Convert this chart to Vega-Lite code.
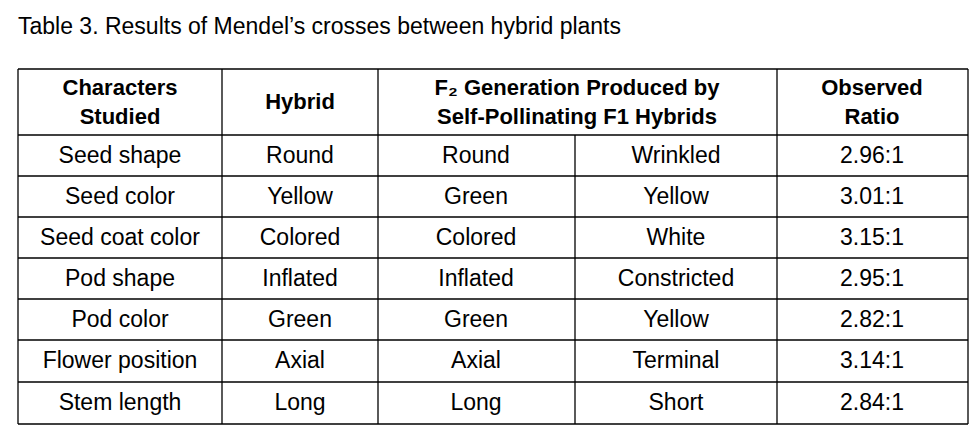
{
  "$schema": "https://vega.github.io/schema/vega-lite/v6.json",
  "width": 980,
  "height": 445,
  "autosize": {"type": "fit", "contains": "padding"},
  "padding": 0,
  "config": {"view": {"stroke": null}, "text": {"font": "Liberation Sans", "fontSize": 23}},
  "datasets": {
    "lines": [
      {"x": 18, "x2": 968, "y": 69, "y2": 69},
      {"x": 18, "x2": 968, "y": 135, "y2": 135},
      {"x": 18, "x2": 968, "y": 176, "y2": 176},
      {"x": 18, "x2": 968, "y": 217, "y2": 217},
      {"x": 18, "x2": 968, "y": 258, "y2": 258},
      {"x": 18, "x2": 968, "y": 299, "y2": 299},
      {"x": 18, "x2": 968, "y": 340, "y2": 340},
      {"x": 18, "x2": 968, "y": 382, "y2": 382},
      {"x": 18, "x2": 968, "y": 424, "y2": 424},
      {"x": 18, "x2": 18, "y": 69, "y2": 424},
      {"x": 222, "x2": 222, "y": 69, "y2": 424},
      {"x": 378, "x2": 378, "y": 69, "y2": 424},
      {"x": 575, "x2": 575, "y": 135, "y2": 424},
      {"x": 777, "x2": 777, "y": 69, "y2": 424},
      {"x": 968, "x2": 968, "y": 69, "y2": 424}
    ],
    "header": [
      {"x": 120, "y": 88, "t": "Characters"},
      {"x": 120, "y": 117, "t": "Studied"},
      {"x": 300, "y": 102, "t": "Hybrid"},
      {"x": 577, "y": 88, "t": "F₂ Generation Produced by"},
      {"x": 577, "y": 117, "t": "Self-Pollinating F1 Hybrids"},
      {"x": 872, "y": 88, "t": "Observed"},
      {"x": 872, "y": 117, "t": "Ratio"}
    ],
    "cells": [
      {"x": 120, "y": 156, "t": "Seed shape"}, {"x": 300, "y": 156, "t": "Round"}, {"x": 476, "y": 156, "t": "Round"}, {"x": 676, "y": 156, "t": "Wrinkled"}, {"x": 872, "y": 156, "t": "2.96:1"},
      {"x": 120, "y": 197, "t": "Seed color"}, {"x": 300, "y": 197, "t": "Yellow"}, {"x": 476, "y": 197, "t": "Green"}, {"x": 676, "y": 197, "t": "Yellow"}, {"x": 872, "y": 197, "t": "3.01:1"},
      {"x": 120, "y": 238, "t": "Seed coat color"}, {"x": 300, "y": 238, "t": "Colored"}, {"x": 476, "y": 238, "t": "Colored"}, {"x": 676, "y": 238, "t": "White"}, {"x": 872, "y": 238, "t": "3.15:1"},
      {"x": 120, "y": 279, "t": "Pod shape"}, {"x": 300, "y": 279, "t": "Inflated"}, {"x": 476, "y": 279, "t": "Inflated"}, {"x": 676, "y": 279, "t": "Constricted"}, {"x": 872, "y": 279, "t": "2.95:1"},
      {"x": 120, "y": 320, "t": "Pod color"}, {"x": 300, "y": 320, "t": "Green"}, {"x": 476, "y": 320, "t": "Green"}, {"x": 676, "y": 320, "t": "Yellow"}, {"x": 872, "y": 320, "t": "2.82:1"},
      {"x": 120, "y": 361, "t": "Flower position"}, {"x": 300, "y": 361, "t": "Axial"}, {"x": 476, "y": 361, "t": "Axial"}, {"x": 676, "y": 361, "t": "Terminal"}, {"x": 872, "y": 361, "t": "3.14:1"},
      {"x": 120, "y": 403, "t": "Stem length"}, {"x": 300, "y": 403, "t": "Long"}, {"x": 476, "y": 403, "t": "Long"}, {"x": 676, "y": 403, "t": "Short"}, {"x": 872, "y": 403, "t": "2.84:1"}
    ],
    "title": [{"x": 18, "y": 27, "t": "Table 3. Results of Mendel’s crosses between hybrid plants"}]
  },
  "layer": [
    {
      "data": {"name": "lines"},
      "mark": {"type": "rule", "color": "black", "strokeWidth": 1.3},
      "encoding": {
        "x": {"field": "x", "type": "quantitative", "scale": {"domain": [0, 980], "nice": false, "zero": false}, "axis": null},
        "x2": {"field": "x2"},
        "y": {"field": "y", "type": "quantitative", "scale": {"domain": [445, 0], "nice": false, "zero": false}, "axis": null},
        "y2": {"field": "y2"}
      }
    },
    {
      "data": {"name": "header"},
      "mark": {"type": "text", "fontWeight": "bold", "fontSize": 22, "baseline": "middle", "align": "center"},
      "encoding": {
        "x": {"field": "x", "type": "quantitative"},
        "y": {"field": "y", "type": "quantitative"},
        "text": {"field": "t"}
      }
    },
    {
      "data": {"name": "cells"},
      "mark": {"type": "text", "baseline": "middle", "align": "center"},
      "encoding": {
        "x": {"field": "x", "type": "quantitative"},
        "y": {"field": "y", "type": "quantitative"},
        "text": {"field": "t"}
      }
    },
    {
      "data": {"name": "title"},
      "mark": {"type": "text", "fontSize": 23, "baseline": "middle", "align": "left"},
      "encoding": {
        "x": {"field": "x", "type": "quantitative"},
        "y": {"field": "y", "type": "quantitative"},
        "text": {"field": "t"}
      }
    }
  ]
}
